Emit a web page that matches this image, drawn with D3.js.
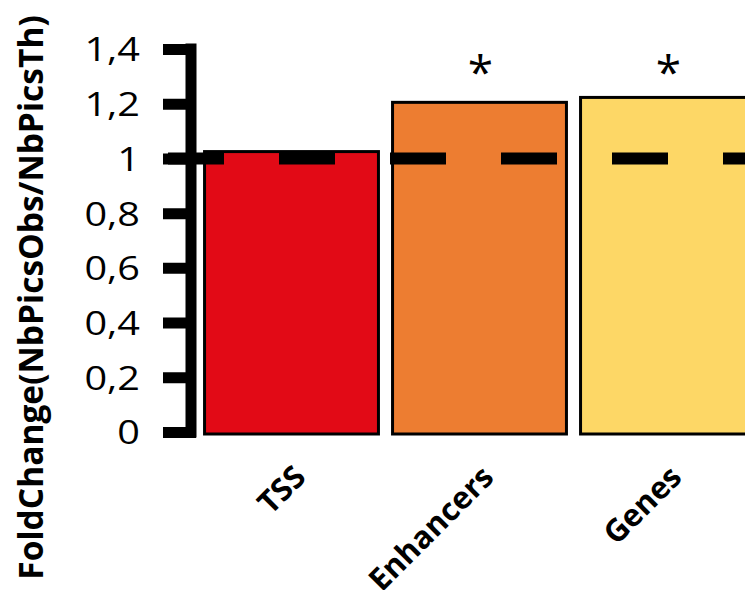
<!DOCTYPE html>
<html><head><meta charset="utf-8">
<script src="https://cdn.jsdelivr.net/npm/d3@7"></script>
<style>body{margin:0;background:#fff}svg{display:block}text{font-family:"Open Sans",sans-serif}</style>
</head><body>
<svg id="c" width="745" height="590"></svg>
<script>
const categories = ["TSS", "Enhancers", "Genes"];
const foldChange = [1.025, 1.205, 1.223];
const significant = [false, true, true];
const barColors = ["#E20A16", "#ED7D31", "#FDD766"];
const yTicks = [0, 0.2, 0.4, 0.6, 0.8, 1, 1.2, 1.4];
const referenceLine = 1;
const yTitle = "FoldChange(NbPicsObs/NbPicsTh)";

const svg = d3.select("#c");
const y = d3.scaleLinear().domain([0, 1.4]).range([432, 49]);
const x = d3.scaleBand().domain(categories).range([197.5, 761.5]).paddingInner(0.075).paddingOuter(0.0375);
const fmt = d => d3.format("")(d).replace(".", ",");

// axis
const ax = svg.append("g").attr("transform", "translate(196,0)")
  .call(d3.axisLeft(y).tickValues(yTicks).tickFormat(fmt).tickSize(33).tickSizeOuter(0).tickPadding(23));
ax.select(".domain").remove();
ax.selectAll(".tick line").attr("stroke", "#000").attr("stroke-width", 11);
ax.selectAll(".tick text").attr("fill", "#000").style("font-size", "33px").attr("dy", "0.36em")
  .attr("x", 0).attr("transform", "translate(-56,0) scale(1.2,1)");
svg.append("line").attr("x1", 191).attr("x2", 191)
  .attr("y1", y(1.4) - 5.5).attr("y2", y(0) + 5.5).attr("stroke", "#000").attr("stroke-width", 11);

// bars
svg.selectAll("rect.bar").data(categories).join("rect").attr("class", "bar")
  .attr("x", d => x(d)).attr("width", x.bandwidth())
  .attr("y", (d, i) => y(foldChange[i])).attr("height", (d, i) => y(0) - y(foldChange[i]) + 2)
  .attr("fill", (d, i) => barColors[i]).attr("stroke", "#000").attr("stroke-width", 3);

// reference dashed line
svg.append("line").attr("x1", 168).attr("x2", 745).attr("y1", y(referenceLine)).attr("y2", y(referenceLine))
  .attr("stroke", "#000").attr("stroke-width", 12).attr("stroke-dasharray", "56 55");

// asterisks
svg.selectAll("text.star").data(categories.filter((d, i) => significant[i])).join("text").attr("class", "star")
  .attr("x", d => x(d) + x.bandwidth() / 2 + 1).attr("y", 89).attr("text-anchor", "middle")
  .style("font-size", "46px").text("*");

// x labels
svg.selectAll("text.xl").data(categories).join("text").attr("class", "xl")
  .attr("transform", d => `translate(${x(d) + x.bandwidth() / 2 + 16},479) rotate(-45)`)
  .attr("text-anchor", "end").style("font-size", "31px").style("font-weight", "bold").text(d => d);

// y title
svg.append("text").attr("transform", "translate(43,297.5) rotate(-90)").attr("text-anchor", "middle")
  .style("font-size", "33.5px").style("font-weight", "bold").text(yTitle);
</script>
</body></html>
